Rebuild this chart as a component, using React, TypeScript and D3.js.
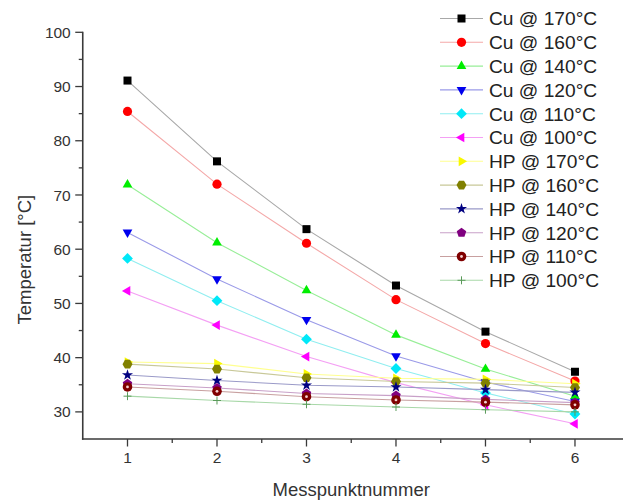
import React from "react";
import * as d3 from "d3";

const xValues = [1, 2, 3, 4, 5, 6];
const cu170 = [91.1, 76.2, 63.7, 53.3, 44.8, 37.4];
const cu160 = [85.4, 72.0, 61.1, 50.7, 42.6, 35.7];
const cu140 = [71.9, 61.2, 52.4, 44.2, 37.9, 32.9];
const cu120 = [63.1, 54.5, 47.0, 40.3, 35.5, 31.9];
const cu110 = [58.3, 50.5, 43.4, 38.0, 33.5, 29.6];
const cu100 = [52.3, 46.0, 40.2, 35.4, 31.3, 27.8];
const hp170 = [39.2, 38.9, 37.0, 36.2, 36.0, 35.2];
const hp160 = [38.8, 37.9, 36.3, 35.6, 35.3, 34.5];
const hp140 = [36.8, 35.8, 34.9, 34.6, 34.1, 33.6];
const hp120 = [35.2, 34.4, 33.4, 33.0, 32.3, 31.7];
const hp110 = [34.6, 33.8, 32.8, 32.2, 31.8, 31.3];
const hp100 = [32.9, 32.1, 31.4, 30.9, 30.4, 30.0];

const seriesNames = [
  "Cu @ 170°C", "Cu @ 160°C", "Cu @ 140°C", "Cu @ 120°C", "Cu @ 110°C", "Cu @ 100°C",
  "HP @ 170°C", "HP @ 160°C", "HP @ 140°C", "HP @ 120°C", "HP @ 110°C", "HP @ 100°C",
];
const seriesValues = [cu170, cu160, cu140, cu120, cu110, cu100, hp170, hp160, hp140, hp120, hp110, hp100];
const markerColors = ["#000000", "#ff0000", "#00ee00", "#0000ee", "#00e8f8", "#ff00ff", "#f8f800", "#808000", "#000080", "#800080", "#800000", "#5a9a5a"];
const lineColors = ["#a8a8a8", "#f4a8a8", "#98ee98", "#9a9ae8", "#90eef0", "#f4a0f4", "#ffff90", "#c8c898", "#9a9ac8", "#c8a0c8", "#c8a0a0", "#a8d8a8"];
const markerShapes = ["square", "circle", "triUp", "triDown", "diamond", "triLeft", "triRight", "hexagon", "star", "pentagon", "ball", "plus"];

const yMajorTicks = [30, 40, 50, 60, 70, 80, 90, 100];
const yMinorTicks = [35, 45, 55, 65, 75, 85, 95];
const xMinorTicks = [1.5, 2.5, 3.5, 4.5, 5.5];

const FONT = "'Liberation Sans', Arial, sans-serif";

function polygon(n: number, r: number, rot: number) {
  const pts: [number, number][] = [];
  for (let i = 0; i < n; i++) {
    const a = rot + (i * 2 * Math.PI) / n;
    pts.push([r * Math.cos(a), r * Math.sin(a)]);
  }
  return "M" + pts.map((p) => p[0].toFixed(2) + "," + p[1].toFixed(2)).join("L") + "Z";
}

function Marker({ shape, x, y, color }: { shape: string; x: number; y: number; color: string }) {
  const t = `translate(${x},${y})`;
  switch (shape) {
    case "square":
      return <rect x={x - 4} y={y - 4} width={8} height={8} fill={color} />;
    case "circle":
      return <circle cx={x} cy={y} r={4.6} fill={color} />;
    case "triUp":
      return <path transform={t} d={polygon(3, 5.6, -Math.PI / 2)} fill={color} />;
    case "triDown":
      return <path transform={t} d={polygon(3, 5.6, Math.PI / 2)} fill={color} />;
    case "triLeft":
      return <path transform={t} d={polygon(3, 5.6, Math.PI)} fill={color} />;
    case "triRight":
      return <path transform={t} d={polygon(3, 5.6, 0)} fill={color} />;
    case "diamond":
      return <path transform={t} d={polygon(4, 5.4, 0)} fill={color} />;
    case "hexagon":
      return <path transform={t} d={polygon(6, 5, 0)} fill={color} />;
    case "pentagon":
      return <path transform={t} d={polygon(5, 5, -Math.PI / 2)} fill={color} />;
    case "star":
      return <path transform={t} d={d3.symbol(d3.symbolStar, 38)() as string} fill={color} />;
    case "ball":
      return (
        <g>
          <circle cx={x} cy={y} r={4.8} fill={color} />
          <circle cx={x} cy={y} r={1.4} fill="#f4d0d0" />
        </g>
      );
    case "plus":
      return (
        <g stroke={color} strokeWidth={1}>
          <line x1={x - 4} y1={y} x2={x + 4} y2={y} />
          <line x1={x} y1={y - 4} x2={x} y2={y + 4} />
        </g>
      );
    default:
      return null;
  }
}

export default function App() {
  const width = 623;
  const height = 500;
  const x = d3.scaleLinear().domain([0.5, 6.55]).range([82.75, 624.2]);
  const y = d3.scaleLinear().domain([25, 100]).range([439, 32.3]);
  const line = d3
    .line<number>()
    .x((_, i) => x(xValues[i]))
    .y((d) => y(d));

  const axisColor = "#3a3a3a";
  const legendX = 440;
  const legendY0 = 18.5;
  const legendDy = 23.8;

  return (
    <svg
      width={width}
      height={height}
      style={{ position: "absolute", left: 0, top: 0, background: "#fff" }}
      fontFamily={FONT}
    >
      <rect width={width} height={height} fill="#fff" />
      {seriesValues.map((vals, si) => (
        <path key={"l" + si} d={line(vals) as string} fill="none" stroke={lineColors[si]} strokeWidth={1.1} />
      ))}
      {seriesValues.map((vals, si) => (
        <g key={"m" + si}>
          {vals.map((v, i) => (
            <Marker key={i} shape={markerShapes[si]} x={x(xValues[i])} y={y(v)} color={markerColors[si]} />
          ))}
        </g>
      ))}

      <line x1={x(0.5)} y1={y(100) - 0.5} x2={x(0.5)} y2={y(25) + 0.8} stroke={axisColor} strokeWidth={1.6} />
      {yMajorTicks.map((t) => (
        <g key={"ym" + t}>
          <line x1={x(0.5) - 7.5} x2={x(0.5)} y1={y(t)} y2={y(t)} stroke={axisColor} strokeWidth={1.3} />
          <text x={x(0.5) - 12} y={y(t)} dy="0.36em" textAnchor="end" fontSize={15.5} fill="#333">
            {t}
          </text>
        </g>
      ))}
      {yMinorTicks.map((t) => (
        <line key={"yn" + t} x1={x(0.5) - 4} x2={x(0.5)} y1={y(t)} y2={y(t)} stroke={axisColor} strokeWidth={1.3} />
      ))}

      <line x1={x(0.5) - 0.8} y1={y(25)} x2={width} y2={y(25)} stroke={axisColor} strokeWidth={1.6} />
      {xValues.map((t) => (
        <g key={"xm" + t}>
          <line x1={x(t)} x2={x(t)} y1={y(25)} y2={y(25) + 7.5} stroke={axisColor} strokeWidth={1.3} />
          <text x={x(t)} y={y(25) + 24} textAnchor="middle" fontSize={15.5} fill="#333">
            {t}
          </text>
        </g>
      ))}
      {xMinorTicks.map((t) => (
        <line key={"xn" + t} x1={x(t)} x2={x(t)} y1={y(25)} y2={y(25) + 4} stroke={axisColor} strokeWidth={1.3} />
      ))}

      <text x={(x(1) + x(6)) / 2} y={496} textAnchor="middle" fontSize={18.5} fill="#333">
        Messpunktnummer
      </text>
      <text
        transform={`translate(31,${(y(100) + y(25)) / 2 + 24}) rotate(-90)`}
        textAnchor="middle"
        fontSize={18.5}
        fill="#333"
      >
        Temperatur [°C]
      </text>

      {seriesNames.map((name, si) => {
        const ly = legendY0 + si * legendDy;
        return (
          <g key={"lg" + si}>
            <line x1={legendX} x2={legendX + 43} y1={ly} y2={ly} stroke={lineColors[si]} strokeWidth={1.1} />
            <Marker shape={markerShapes[si]} x={legendX + 21.5} y={ly} color={markerColors[si]} />
            <text x={legendX + 49} y={ly} dy="0.36em" fontSize={19.2} fill="#222">
              {name}
            </text>
          </g>
        );
      })}
    </svg>
  );
}
